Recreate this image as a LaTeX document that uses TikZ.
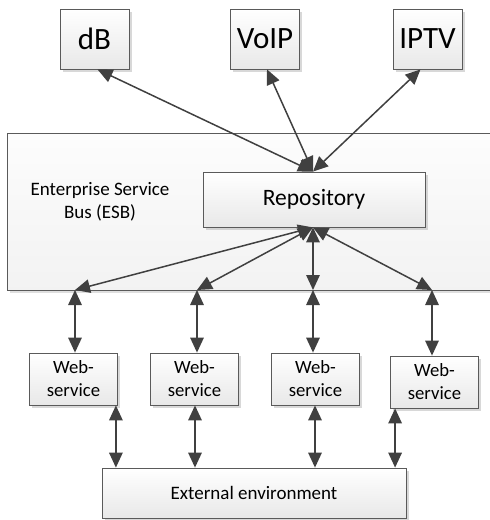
\documentclass[tikz,border=0pt]{standalone}
\usepackage{fontspec}
\setmainfont{Carlito}
\usetikzlibrary{arrows.meta,shadows}
\definecolor{lineC}{HTML}{404040}
\definecolor{borderC}{HTML}{5A5A5A}
\begin{document}
\begin{tikzpicture}[x=1pt,y=-1pt,
  box/.style={draw=borderC, line width=0.8pt, top color=white, bottom color=black!9,
    drop shadow={shadow xshift=2.5pt, shadow yshift=-2.5pt, fill=black!30, opacity=0.5},
    inner sep=0pt, align=center, text=black},
  bigbox/.style={box, minimum width=69pt, minimum height=60pt, font=\fontsize{31}{34}\selectfont},
  wsbox/.style={box, minimum width=88pt, minimum height=52pt, font=\fontsize{18.7}{23}\selectfont},
  con/.style={draw=lineC, line width=1.5pt, {Triangle[length=15pt,width=13.5pt]}-{Triangle[length=15pt,width=13.5pt]}},
]
\useasboundingbox (0,0) rectangle (490,520);
\begin{scope}
\clip (0,0) rectangle (490,520);
% ESB
\node[draw=borderC, line width=0.8pt, top color=black!1, bottom color=black!5, minimum width=500pt, minimum height=157pt, anchor=north west, inner sep=0pt,
  drop shadow={shadow xshift=2.5pt, shadow yshift=-2.5pt, fill=black!25, opacity=0.5}] (esb) at (7,133) {};
\end{scope}
\node[align=center, font=\fontsize{19}{23.5}\selectfont] (esblabel) at (100,202) {Enterprise Service\\Bus (ESB)};

% top boxes
\node[bigbox] (db) at (94.5,39) {dB};
\node[bigbox] (voip) at (265,39) {VoIP};
\node[bigbox] (iptv) at (427.5,39) {IPTV};

% repository
\node[box, minimum width=222pt, minimum height=55pt, font=\fontsize{23.5}{28}\selectfont] (repo) at (314,199.5) {Repository};

% web-services
\node[wsbox] (ws1) at (73.5,379) {Web-\\service};
\node[wsbox] (ws2) at (194.5,379) {Web-\\service};
\node[wsbox] (ws3) at (315.5,379) {Web-\\service};
\node[wsbox] (ws4) at (434.5,382) {Web-\\service};

% external
\node[box, minimum width=304pt, minimum height=50pt, font=\fontsize{19}{23}\selectfont] (ext) at (254,493) {External environment};

% coordinates on ESB bottom
\coordinate (c1) at (75,290);
\coordinate (c2) at (197,290);
\coordinate (c3) at (313,290);
\coordinate (c4) at (432,290);

% connectors top
\draw[con] ([xshift=3pt]db.south) -- ([xshift=-1pt]repo.north);
\draw[con] ([xshift=2pt]voip.south) -- ([xshift=-1pt]repo.north);
\draw[con] ([xshift=-7pt]iptv.south) -- ([xshift=-1pt]repo.north);

% repository to ESB bottom
\draw[con] ([xshift=-1pt]repo.south) -- (c1);
\draw[con] ([xshift=-1pt]repo.south) -- (c2);
\draw[con] ([xshift=-1pt]repo.south) -- (c3);
\draw[con] ([xshift=-1pt]repo.south) -- (c4);

% ESB to web-services
\draw[con] (c1) -- (c1 |- ws1.north);
\draw[con] (c2) -- (c2 |- ws2.north);
\draw[con] (c3) -- (c3 |- ws3.north);
\draw[con] (c4) -- (c4 |- ws4.north);

% web-services to external
\draw[con] ([xshift=-2pt]ws1.south east) -- ([xshift=-2pt]ws1.south east |- ext.north);
\draw[con] ([xshift=0.5pt]ws2.south) -- ([xshift=0.5pt]ws2.south |- ext.north);
\draw[con] ([xshift=-0.5pt]ws3.south) -- ([xshift=-0.5pt]ws3.south |- ext.north);
\draw[con] ([xshift=5pt]ws4.south west) -- ([xshift=5pt]ws4.south west |- ext.north);
\end{tikzpicture}
\end{document}
